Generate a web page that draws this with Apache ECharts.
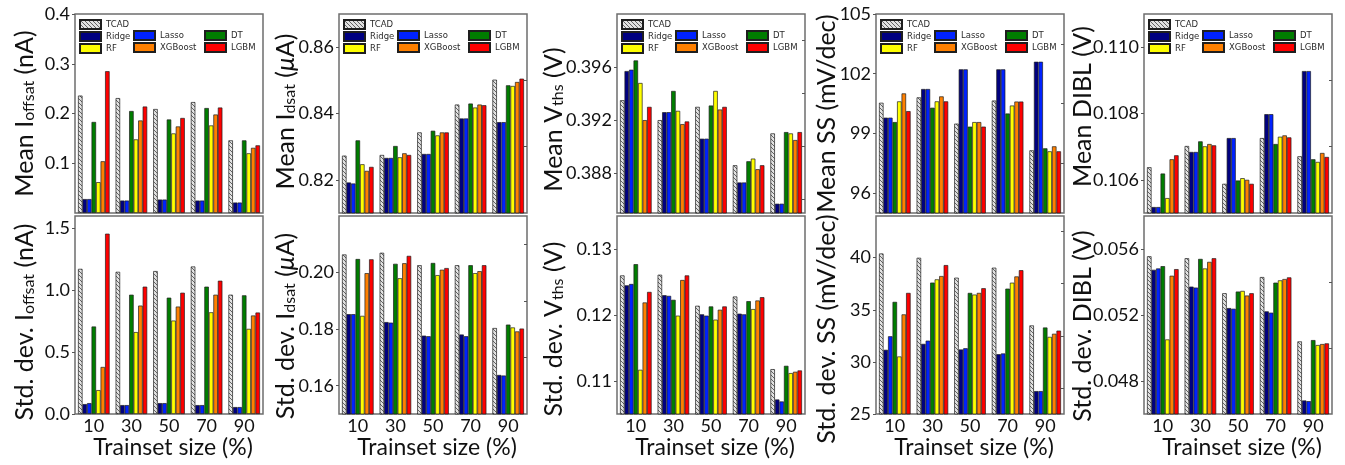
<!DOCTYPE html>
<html>
<head>
<meta charset="utf-8">
<script src="https://cdn.jsdelivr.net/npm/echarts@6/dist/echarts.min.js"></script>
<style>
  html, body { margin: 0; padding: 0; background: #fff; }
  #chart { width: 1345px; height: 465px; }
</style>
</head>
<body>
<div id="chart"></div>
<script>
// Trainset sizes (%) on the x axis and the models compared in every panel
const categories = ['10', '30', '50', '70', '90'];
const models = ['TCAD', 'Ridge', 'Lasso', 'DT', 'RF', 'XGBoost', 'LGBM'];

// Each array: one row per model (same order as `models`), one column per trainset size
const meanIoffsat = [
  [0.236, 0.231, 0.209, 0.223, 0.146],
  [0.028, 0.025, 0.027, 0.025, 0.021],
  [0.028, 0.025, 0.027, 0.025, 0.021],
  [0.183, 0.205, 0.188, 0.211, 0.146],
  [0.062, 0.148, 0.160, 0.176, 0.120],
  [0.104, 0.186, 0.174, 0.198, 0.131],
  [0.285, 0.214, 0.191, 0.212, 0.136]
];
const stdIoffsat = [
  [1.173, 1.149, 1.155, 1.192, 0.964],
  [0.080, 0.072, 0.088, 0.072, 0.056],
  [0.088, 0.072, 0.088, 0.072, 0.056],
  [0.707, 0.964, 0.940, 1.029, 0.959],
  [0.193, 0.662, 0.755, 0.822, 0.688],
  [0.380, 0.876, 0.868, 0.964, 0.796],
  [1.457, 1.029, 0.980, 1.077, 0.820]
];
const meanIdsat = [
  [0.8273, 0.8275, 0.8343, 0.8427, 0.8502],
  [0.8192, 0.8266, 0.8278, 0.8385, 0.8374],
  [0.8189, 0.8266, 0.8278, 0.8385, 0.8374],
  [0.8319, 0.8302, 0.8348, 0.8430, 0.8485],
  [0.8247, 0.8268, 0.8334, 0.8418, 0.8483],
  [0.8227, 0.8280, 0.8343, 0.8427, 0.8495],
  [0.8239, 0.8275, 0.8343, 0.8425, 0.8505]
];
const stdIdsat = [
  [0.2064, 0.2070, 0.2026, 0.2026, 0.1804],
  [0.1853, 0.1825, 0.1777, 0.1781, 0.1638],
  [0.1853, 0.1823, 0.1775, 0.1775, 0.1636],
  [0.2048, 0.2031, 0.2034, 0.2026, 0.1816],
  [0.1847, 0.1980, 0.1991, 0.1998, 0.1806],
  [0.1998, 0.2033, 0.2010, 0.2005, 0.1792],
  [0.2047, 0.2059, 0.2016, 0.2026, 0.1802]
];
const meanVths = [
  [0.3935, 0.3920, 0.3930, 0.3886, 0.3910],
  [0.3957, 0.3926, 0.3906, 0.3873, 0.3857],
  [0.3958, 0.3926, 0.3906, 0.3873, 0.3857],
  [0.3965, 0.3942, 0.3931, 0.3889, 0.3911],
  [0.3948, 0.3927, 0.3942, 0.3891, 0.3910],
  [0.3920, 0.3917, 0.3928, 0.3883, 0.3905],
  [0.3930, 0.3919, 0.3930, 0.3886, 0.3911]
];
const stdVths = [
  [0.1260, 0.1261, 0.1214, 0.1228, 0.1118],
  [0.1245, 0.1230, 0.1201, 0.1202, 0.1072],
  [0.1247, 0.1229, 0.1199, 0.1201, 0.1069],
  [0.1277, 0.1223, 0.1213, 0.1221, 0.1123],
  [0.1117, 0.1199, 0.1193, 0.1209, 0.1112],
  [0.1219, 0.1253, 0.1208, 0.1222, 0.1114],
  [0.1235, 0.1260, 0.1213, 0.1227, 0.1116]
];
const meanSS = [
  [100.54, 100.81, 99.49, 100.65, 98.15],
  [99.79, 101.23, 102.22, 102.22, 102.60],
  [99.79, 101.23, 102.22, 102.22, 102.60],
  [99.57, 100.29, 99.34, 100.00, 98.25],
  [100.61, 100.61, 99.57, 100.40, 98.10],
  [101.01, 100.86, 99.57, 100.60, 98.35],
  [100.12, 100.61, 99.34, 100.60, 98.10]
];
const stdSS = [
  [40.40, 39.99, 38.08, 39.04, 33.50],
  [31.16, 31.73, 31.19, 30.74, 27.20],
  [32.46, 32.04, 31.31, 30.81, 27.20],
  [35.76, 37.61, 36.62, 37.03, 33.30],
  [30.52, 37.92, 36.46, 37.60, 32.40],
  [34.56, 38.24, 36.62, 38.20, 32.70],
  [36.62, 39.29, 37.07, 38.80, 33.00]
];
const meanDIBL = [
  [0.10638, 0.10702, 0.10588, 0.10726, 0.10671],
  [0.10518, 0.10684, 0.10726, 0.10798, 0.10928],
  [0.10518, 0.10684, 0.10726, 0.10798, 0.10928],
  [0.10619, 0.10716, 0.10598, 0.10708, 0.10662],
  [0.10545, 0.10701, 0.10605, 0.10730, 0.10654],
  [0.10662, 0.10708, 0.10600, 0.10734, 0.10681],
  [0.10674, 0.10704, 0.10588, 0.10728, 0.10669]
];
const stdDIBL = [
  [0.05556, 0.05544, 0.05332, 0.05430, 0.05040],
  [0.05474, 0.05372, 0.05242, 0.05222, 0.04682],
  [0.05482, 0.05366, 0.05238, 0.05214, 0.04678],
  [0.05496, 0.05540, 0.05342, 0.05396, 0.05048],
  [0.05052, 0.05482, 0.05346, 0.05410, 0.05018],
  [0.05438, 0.05522, 0.05318, 0.05418, 0.05024],
  [0.05478, 0.05544, 0.05332, 0.05428, 0.05028]
];

// Y tick labels (major) and unlabeled minor ticks per panel
const meanIoffsatTicks = [0.1, 0.2, 0.3, 0.4];
const stdIoffsatTicks = [0.0, 0.5, 1.0, 1.5];
const meanIdsatTicks = [0.82, 0.84, 0.86];
const meanIdsatMinor = [0.83, 0.85];
const stdIdsatTicks = [0.16, 0.18, 0.20];
const stdIdsatMinor = [0.17, 0.19, 0.21];
const meanVthsTicks = [0.388, 0.392, 0.396];
const meanVthsMinor = [0.386, 0.390, 0.394, 0.398];
const stdVthsTicks = [0.11, 0.12, 0.13];
const meanSSTicks = [96, 99, 102, 105];
const meanSSMinor = [97.5, 100.5, 103.5];
const stdSSTicks = [25, 30, 35, 40];
const stdSSMinor = [27.5, 32.5, 37.5, 42.5];
const meanDIBLTicks = [0.106, 0.108, 0.110];
const meanDIBLMinor = [0.107, 0.109];
const stdDIBLTicks = [0.048, 0.052, 0.056];
const stdDIBLMinor = [0.050, 0.054];

// Panel definitions: column, row, axis range, ticks, y-axis title and its vertical offset (px, + = down)
const panels = [
  { col: 0, row: 0, data: meanIoffsat, min: 0, max: 0.4, ticks: meanIoffsatTicks, minor: [], dec: 1,
    name: '{a|Mean I}{s|offsat}{a| (nA)}', shift: 0 },
  { col: 0, row: 1, data: stdIoffsat, min: 0, max: 1.6, ticks: stdIoffsatTicks, minor: [], dec: 1,
    name: '{a|Std. dev. I}{s|offsat}{a| (nA)}', shift: 7 },
  { col: 1, row: 0, data: meanIdsat, min: 0.81, max: 0.87, ticks: meanIdsatTicks, minor: meanIdsatMinor, dec: 2,
    name: '{a|Mean I}{s|dsat}{a| (}{i|μ}{a|A)}', shift: -2 },
  { col: 1, row: 1, data: stdIdsat, min: 0.15, max: 0.22, ticks: stdIdsatTicks, minor: stdIdsatMinor, dec: 2,
    name: '{a|Std. dev. I}{s|dsat}{a| (}{i|μ}{a|A)}', shift: 11 },
  { col: 2, row: 0, data: meanVths, min: 0.385, max: 0.400, ticks: meanVthsTicks, minor: meanVthsMinor, dec: 3,
    name: '{a|Mean V}{s|ths}{a| (V)}', shift: 6 },
  { col: 2, row: 1, data: stdVths, min: 0.105, max: 0.135, ticks: stdVthsTicks, minor: [], dec: 2,
    name: '{a|Std. dev. V}{s|ths}{a| (V)}', shift: 14 },
  { col: 3, row: 0, data: meanSS, min: 95, max: 105, ticks: meanSSTicks, minor: meanSSMinor, dec: 0,
    name: '{a|Mean SS (mV/dec)}', shift: 0 },
  { col: 3, row: 1, data: stdSS, min: 25, max: 44, ticks: stdSSTicks, minor: stdSSMinor, dec: 0,
    name: '{a|Std. dev. SS (mV/dec)}', shift: 14 },
  { col: 4, row: 0, data: meanDIBL, min: 0.105, max: 0.111, ticks: meanDIBLTicks, minor: meanDIBLMinor, dec: 3,
    name: '{a|Mean DIBL (V)}', shift: -7 },
  { col: 4, row: 1, data: stdDIBL, min: 0.046, max: 0.058, ticks: stdDIBLTicks, minor: stdDIBLMinor, dec: 3,
    name: '{a|Std. dev. DIBL (V)}', shift: 11 }
];

// Layout in pixels
const colLeft = [75, 339, 617, 876, 1144];
const colNameGap = [38, 41, 51, 37, 49];
const plotWidth = 188;
const rowTop = [14, 216];
const rowHeight = [199, 198];

const FONT = 'Lato';
const TEXT = '#111';

// Diagonal hatch for the TCAD reference bars
function hatchPattern() {
  const c = document.createElement('canvas');
  c.width = 4; c.height = 4;
  const g = c.getContext('2d');
  g.fillStyle = '#e2e2e2';
  g.fillRect(0, 0, 4, 4);
  g.strokeStyle = '#555';
  g.lineWidth = 0.9;
  g.beginPath();
  g.moveTo(0, 0); g.lineTo(4, 4);
  g.moveTo(-2, 2); g.lineTo(2, 6);
  g.moveTo(2, -2); g.lineTo(6, 2);
  g.stroke();
  return c;
}
const fills = [
  { image: hatchPattern(), repeat: 'repeat' },
  '#000080', '#0022ff', '#007d00', '#ffff00', '#ff8000', '#ff0000'
];

const grid = [], xAxis = [], yAxis = [], series = [], legend = [];

panels.forEach((p, i) => {
  const left = colLeft[p.col];
  grid.push({
    left: left, top: rowTop[p.row], width: plotWidth, height: rowHeight[p.row],
    show: true, borderColor: '#6e6e6e', borderWidth: 1.5, backgroundColor: 'transparent',
    containLabel: false, outerBoundsMode: 'none'
  });
  const bottom = p.row === 1;
  xAxis.push({
    type: 'category', gridIndex: i, data: categories,
    axisLine: { show: false }, axisTick: { show: false },
    axisLabel: { show: bottom, fontFamily: FONT, fontSize: 18, color: TEXT, margin: 3 },
    name: bottom ? 'Trainset size (%)' : '',
    nameLocation: 'middle', nameGap: 22, nameMoveOverlap: false,
    nameTextStyle: { fontFamily: FONT, fontSize: 23, color: TEXT, padding: [0, 0, 0, 8] },
    splitLine: { show: false }
  });
  // Rotated title: right padding moves it down the axis, left padding moves it up
  const pad = p.shift >= 0 ? [0, 2 * p.shift, 0, 0] : [0, 0, 0, -2 * p.shift];
  // Labelled axis with outward major ticks
  yAxis.push({
    type: 'value', gridIndex: i, min: p.min, max: p.max,
    axisLine: { show: false },
    axisTick: { show: true, inside: false, length: 3, customValues: p.ticks,
                lineStyle: { color: '#555', width: 1 } },
    axisLabel: { show: true, customValues: p.ticks, fontFamily: FONT, fontSize: 18, color: TEXT,
                 margin: 5, formatter: v => Number(v).toFixed(p.dec) },
    splitLine: { show: false },
    name: p.name, nameLocation: 'middle', nameRotate: 90, nameGap: colNameGap[p.col],
    nameMoveOverlap: false,
    nameTextStyle: {
      fontFamily: FONT, fontSize: 25, color: TEXT, padding: pad,
      rich: {
        a: { fontFamily: FONT, fontSize: 25, color: TEXT },
        s: { fontFamily: FONT, fontSize: 16, color: TEXT, verticalAlign: 'bottom', lineHeight: 11 },
        i: { fontFamily: FONT, fontSize: 25, color: TEXT, fontStyle: 'italic' }
      }
    }
  });
  // Companion axis carrying the short inward minor ticks
  yAxis.push({
    type: 'value', gridIndex: i, min: p.min, max: p.max,
    axisLine: { show: false },
    axisTick: { show: p.minor.length > 0, inside: true, length: 3,
                customValues: p.minor.length ? p.minor : [p.min],
                lineStyle: { color: '#555', width: 1 } },
    axisLabel: { show: false }, splitLine: { show: false }
  });
  models.forEach((m, k) => {
    series.push({
      type: 'bar', name: m, xAxisIndex: i, yAxisIndex: 2 * i,
      data: p.data[k],
      barGap: '0%', barCategoryGap: '16%',
      itemStyle: { color: fills[k], borderColor: '#1e1e1e', borderWidth: 0.7 },
      emphasis: { disabled: true },
      silent: true
    });
  });
  if (!bottom) {
    const top = rowTop[0];
    const base = {
      orient: 'vertical', icon: 'rect', itemWidth: 21, itemHeight: 9, itemGap: 1,
      padding: 0, selectedMode: false,
      textStyle: { fontFamily: 'DejaVu Sans', fontSize: 8.5, color: '#2a2a2a', lineHeight: 9 }
    };
    legend.push(Object.assign({}, base, { left: left + 4, top: top + 5, data: ['TCAD', 'Ridge', 'RF'] }));
    legend.push(Object.assign({}, base, { left: left + 58, top: top + 16, data: ['Lasso', 'XGBoost'] }));
    legend.push(Object.assign({}, base, { left: left + 129, top: top + 16, data: ['DT', 'LGBM'] }));
  }
});

const chart = echarts.init(document.getElementById('chart'), null, { renderer: 'canvas' });
chart.setOption({
  animation: false,
  backgroundColor: '#fff',
  textStyle: { fontFamily: FONT },
  grid, xAxis, yAxis, legend, series
});
</script>
</body>
</html>
